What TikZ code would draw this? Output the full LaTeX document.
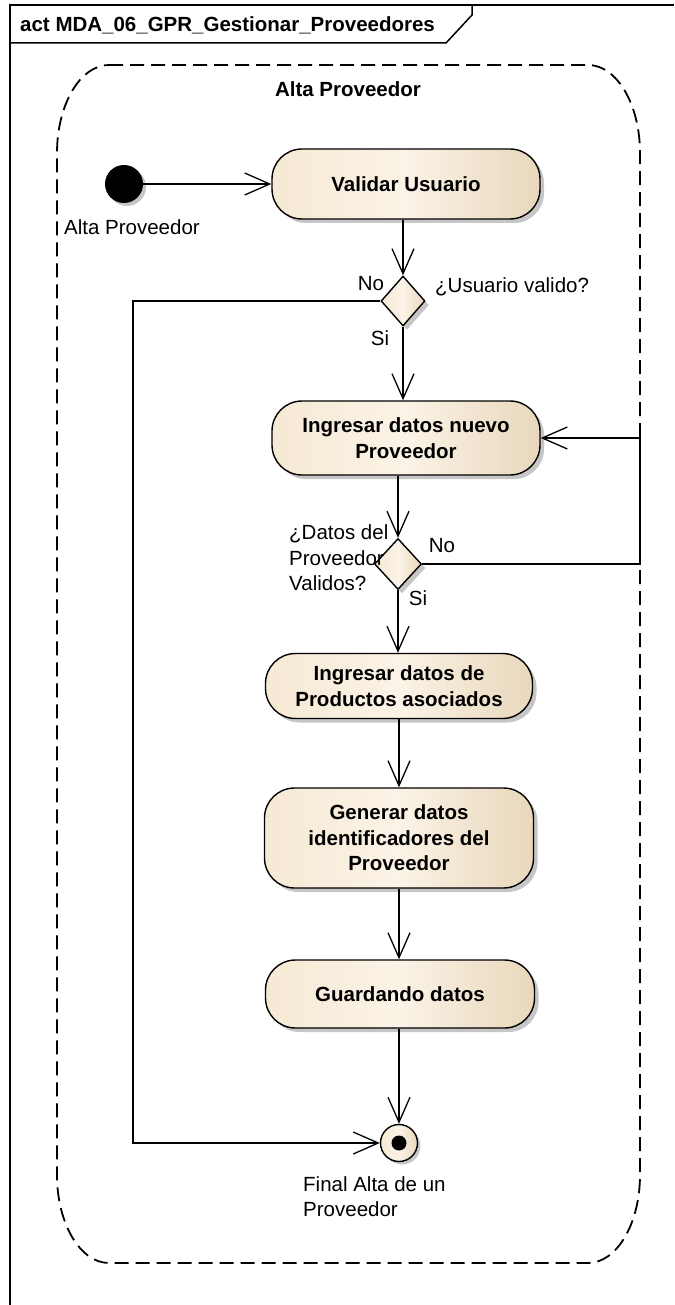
\documentclass[tikz,border=0pt]{standalone}
\usepackage{fontspec}
\setmainfont{Liberation Sans}
\usetikzlibrary{positioning, shapes.geometric, arrows.meta, shadows}

\definecolor{cremaL}{RGB}{246,233,212}
\definecolor{cremaM}{RGB}{251,243,231}
\definecolor{cremaR}{RGB}{232,215,187}
\definecolor{sombra}{RGB}{198,198,198}

\newcommand{\letra}{\fontsize{20.5}{25.5}\selectfont}

\tikzset{
  actividad/.style={draw, line width=1.4pt, rounded corners=30pt, inner sep=0pt,
    left color=cremaL, right color=cremaR, middle color=cremaM,
    drop shadow={shadow xshift=4pt, shadow yshift=-4pt, fill=sombra, opacity=1},
    align=center, font=\letra\bfseries},
  decision/.style={diamond, draw, line width=1.4pt, inner sep=0pt,
    minimum width=44pt, minimum height=50pt,
    left color=cremaL, right color=cremaR, middle color=cremaM,
    drop shadow={shadow xshift=4pt, shadow yshift=-4pt, fill=sombra, opacity=1}},
  inicio/.style={circle, fill=black, minimum size=38pt, inner sep=0pt,
    drop shadow={shadow xshift=3pt, shadow yshift=-3pt, fill=sombra, opacity=1}},
  fin/.style={circle, draw, line width=1.4pt, minimum size=37pt, inner sep=0pt,
    left color=cremaL, right color=cremaR, middle color=cremaM,
    drop shadow={shadow xshift=3pt, shadow yshift=-3pt, fill=sombra, opacity=1},
    path picture={\fill (path picture bounding box.center) circle (7.5pt);}},
  etiqueta/.style={inner sep=0pt, font=\letra},
  flujo/.style={line width=1.3pt, -{Straight Barb[length=25pt, width=22pt]}},
  region/.style={line width=1.8pt, dash pattern=on 14pt off 7pt}
}

\begin{document}
\begin{tikzpicture}[x=1pt, y=-1pt]
    \useasboundingbox (0,0) rectangle (674,1305);

    % Frame of the activity diagram
    \draw[line width=1.5pt] (10,1305) -- (10,5) -- (674,5);
    \draw[line width=1.5pt] (10,43) -- (446,43) -- (472,15) -- (472,5);
    \node[etiqueta, font=\letra\bfseries, anchor=west] (cabecera) at (20,25)
        {act MDA\_06\_GPR\_Gestionar\_Proveedores};

    % Region
    \draw[region] (109,65) -- (588,65)
        arc[start angle=90, end angle=0, x radius=52pt, y radius=88pt]
        -- (640,1175)
        arc[start angle=0, end angle=-90, x radius=52pt, y radius=88pt]
        -- (109,1263)
        arc[start angle=270, end angle=180, x radius=52pt, y radius=88pt]
        -- (57,153)
        arc[start angle=180, end angle=90, x radius=52pt, y radius=88pt] -- cycle;
    \node[etiqueta, font=\letra\bfseries] (titulo) at (348,89) {Alta Proveedor};

    % Nodes
    \node[inicio] (inicio) at (124,184) {};
    \node[etiqueta, anchor=west] (lblinicio) at (64,227) {Alta Proveedor};

    \node[actividad, minimum width=268pt, minimum height=70pt] (validar) at (406,184)
        {Validar Usuario};
    \node[decision] (dec1) at (403,301) {};

    \node[actividad, minimum width=268pt, minimum height=74pt] (ingresar) at (406,438)
        {Ingresar datos nuevo\\Proveedor};
    \node[decision, minimum width=47pt, minimum height=51pt] (dec2) at (398,564) {};

    \node[actividad, minimum width=267pt, minimum height=65pt] (productos) at (399,686)
        {Ingresar datos de\\Productos asociados};
    \node[actividad, minimum width=269pt, minimum height=100pt] (generar) at (399,838)
        {Generar datos\\identificadores del\\Proveedor};
    \node[actividad, minimum width=269pt, minimum height=68pt] (guardando) at (400,994)
        {Guardando datos};

    \node[fin] (fin) at (399,1143) {};
    \node[etiqueta, anchor=north west, align=left] (lblfin) at (303,1176)
        {Final Alta de un\\Proveedor};

    % Guards
    \node[etiqueta] (no1) at (371,284) {No};
    \node[etiqueta, anchor=west] (preg1) at (435,287) {¿Usuario valido?};
    \node[etiqueta] (si1) at (380,338) {Si};
    \node[etiqueta, anchor=west, align=left] (preg2) at (289,558)
        {¿Datos del\\Proveedor\\Validos?};
    \node[etiqueta] (no2) at (442,546) {No};
    \node[etiqueta] (si2) at (418,598) {Si};

    % Flows
    \coordinate (esquina1) at (133,1143);
    \coordinate (esquina2) at (640,564);

    \draw[flujo] (inicio) -- (validar.west);
    \draw[flujo] (dec1.north |- validar.south) -- (dec1.north);
    \draw[flujo] (dec1.south) -- (dec1.south |- ingresar.north);
    \draw[flujo] (dec1.west) -| (esquina1) -- (fin.west);
    \draw[flujo] (dec2.north |- ingresar.south) -- (dec2.north);
    \draw[flujo] (dec2.east) -- (esquina2) |- (ingresar.east);
    \draw[flujo] (dec2.south) -- (dec2.south |- productos.north);
    \draw[flujo] (productos) -- (generar);
    \draw[flujo] (fin.north |- generar.south) -- (fin.north |- guardando.north);
    \draw[flujo] (fin.north |- guardando.south) -- (fin.north);

\end{tikzpicture}
\end{document}
